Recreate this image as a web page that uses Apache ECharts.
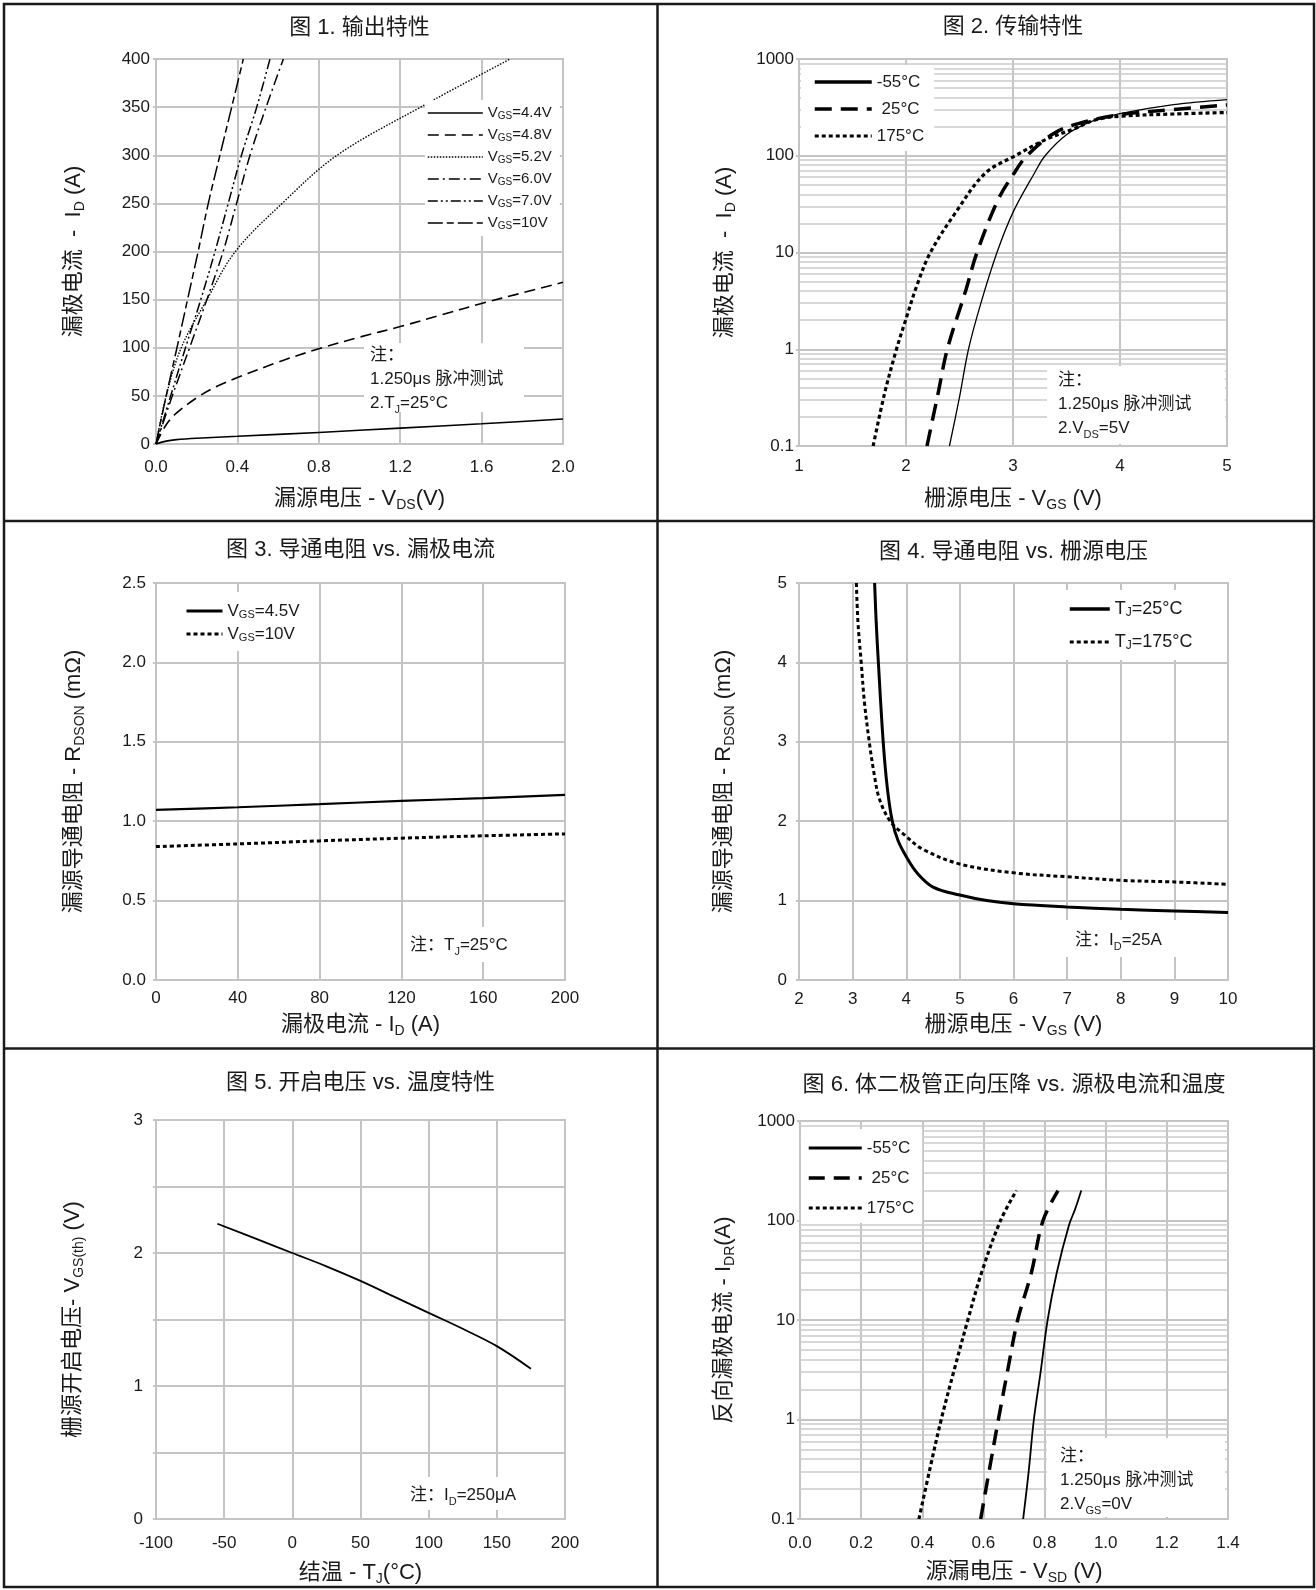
<!DOCTYPE html>
<html><head><meta charset="utf-8">
<script src="https://cdn.jsdelivr.net/npm/echarts@6/dist/echarts.min.js"></script>
<style>html,body{margin:0;padding:0;background:#fff}#c{width:1316px;height:1590px}</style>
</head><body><div id="c"></div><script>
// ---------- DATA ----------
// Fig 1: output characteristics, [VDS (V), ID (A)]
const f1_vgs44 = [[0,0],[0.05,3],[0.1,4.5],[0.2,6],[0.4,8],[0.8,12],[1.2,16.5],[1.6,21],[2.0,26]];
const f1_vgs48 = [[0,0],[0.05,20],[0.1,32],[0.2,48],[0.3,60],[0.4,69],[0.6,85],[0.8,99],[1.0,111],[1.2,122],[1.4,134],[1.6,146],[1.8,157],[2.0,168]];
const f1_vgs52 = [[0,0],[0.05,50],[0.124,100],[0.25,150],[0.39,200],[0.62,250],[0.89,300],[1.30,350],[1.74,400]];
const f1_vgs60 = [[0,0],[0.08,50],[0.165,100],[0.25,150],[0.33,200],[0.396,250],[0.462,300],[0.541,350],[0.626,400]];
const f1_vgs70 = [[0,0],[0.072,50],[0.145,100],[0.22,150],[0.29,200],[0.355,250],[0.42,300],[0.495,350],[0.56,400]];
const f1_vgs10 = [[0,0],[0.05,50],[0.103,100],[0.155,150],[0.207,200],[0.257,250],[0.314,300],[0.372,350],[0.429,400]];
// Fig 2: transfer characteristics, [VGS (V), ID (A)]
const f2_m55 = [[2.406,0.1],[2.5,0.32],[2.584,1],[2.7,3],[2.85,10],[3.0,26],[3.2,66],[3.3,100],[3.5,165],[3.73,225],[4.0,272],[4.5,337],[5.0,380]];
const f2_p25 = [[2.196,0.1],[2.3,0.35],[2.386,1],[2.56,4.1],[2.663,10],[2.86,35],[3.01,66],[3.13,100],[3.38,170],[3.61,215],[4.0,266],[4.5,300],[5.0,335]];
const f2_p175 = [[1.693,0.1],[1.8,0.35],[1.911,1],[1.99,1.9],[2.1,4.5],[2.228,10],[2.465,26],[2.74,66],[3.02,100],[3.3,146],[3.57,190],[3.77,235],[4.0,256],[4.5,270],[5.0,280]];
// Fig 3: RDSON vs ID, [ID (A), RDSON (mOhm)]
const f3_vgs45 = [[0,1.071],[40,1.088],[80,1.107],[120,1.128],[160,1.145],[200,1.166]];
const f3_vgs10 = [[0,0.840],[40,0.857],[80,0.876],[120,0.893],[160,0.908],[200,0.920]];
// Fig 4: RDSON vs VGS, [VGS (V), RDSON (mOhm)]
const f4_t25 = [[3.41,5],[3.44,4.5],[3.48,4],[3.57,3],[3.65,2.4],[3.74,2],[3.85,1.75],[4.02,1.53],[4.2,1.35],[4.5,1.17],[5,1.07],[5.5,1.0],[6,0.96],[7,0.92],[8,0.89],[9,0.87],[10,0.85]];
const f4_t175 = [[3.07,5],[3.1,4.5],[3.16,4],[3.22,3.5],[3.31,3],[3.4,2.6],[3.5,2.28],[3.7,2.0],[3.98,1.82],[4.3,1.65],[5,1.46],[6,1.35],[7,1.3],[8,1.255],[9,1.235],[10,1.205]];
// Fig 5: VGS(th) vs TJ, [TJ (°C), VGS(th) (V)]
const f5_vth = [[-55,2.22],[-25,2.10],[0,2.0],[25,1.90],[50,1.79],[75,1.67],[100,1.55],[125,1.43],[150,1.30],[175,1.13]];
// Fig 6: body diode, [VSD (V), IDR (A)]
const f6_m55 = [[0.73,0.1],[0.748,0.3],[0.765,1],[0.787,3],[0.81,10],[0.84,30],[0.88,90],[0.90,130],[0.92,200]];
const f6_p25 = [[0.591,0.1],[0.62,0.32],[0.649,1],[0.68,3.2],[0.712,10],[0.757,30],[0.795,100],[0.844,200]];
const f6_p175 = [[0.389,0.1],[0.425,0.32],[0.462,1],[0.505,3.2],[0.549,10],[0.594,30],[0.656,100],[0.708,200]];

// tick label / legend texts
const TITLES = ['图 1. 输出特性','图 2. 传输特性','图 3. 导通电阻 vs. 漏极电流','图 4. 导通电阻 vs. 栅源电压','图 5. 开启电压 vs. 温度特性','图 6. 体二极管正向压降 vs. 源极电流和温度'];
const LEG_TEXT = {
  f1a:'V{s|GS}=4.4V', f1b:'V{s|GS}=4.8V', f1c:'V{s|GS}=5.2V', f1d:'V{s|GS}=6.0V', f1e:'V{s|GS}=7.0V', f1f:'V{s|GS}=10V',
  f2a:'-55°C', f2b:' 25°C', f2c:'175°C',
  f3a:'V{s|GS}=4.5V', f3b:'V{s|GS}=10V',
  f4a:'T{s|J}=25°C', f4b:'T{s|J}=175°C',
  f6a:'-55°C', f6b:' 25°C', f6c:'175°C'
};

// ---------- STYLE ----------
const FONT = "'Liberation Sans', Arial, 'Noto Sans CJK SC', sans-serif";
const TXT = '#1a1a1a';
const GRAY = '#c4c4c4';
const MINOR = [];
for (let e = -1; e < 3; e++) for (let m = 2; m <= 9; m++) MINOR.push(+(m * Math.pow(10, e)).toPrecision(2));

const NAME_STYLE = {fontSize: 22, lineHeight: 26, color: TXT, fontFamily: FONT,
  rich: {s: {fontSize: 14, lineHeight: 14, verticalAlign: 'bottom', fontFamily: FONT, color: TXT}}};

const grids = [
  {left:156, top:59, width:407, height:385},
  {left:799, top:59, width:428, height:387},
  {left:156, top:583, width:409, height:397},
  {left:799, top:583, width:429, height:397},
  {left:156, top:1120, width:409, height:399},
  {left:800, top:1121, width:428, height:398}
].map(g => Object.assign({show:true, borderColor:GRAY, borderWidth:2, backgroundColor:'transparent'}, g));

function mkX(gi, min, max, interval, name, nameGap, margin, fmt) {
  return {type:'value', gridIndex:gi, min, max, interval, name, nameLocation:'middle', nameGap,
    nameTextStyle: NAME_STYLE,
    axisLine:{show:true, onZero:false, lineStyle:{color:GRAY, width:2}}, axisTick:{show:false},
    axisLabel:{margin, fontSize:17, color:TXT, fontFamily:FONT, formatter: fmt},
    splitLine:{show:true, lineStyle:{color:GRAY, width:2}}};
}
function mkY(gi, type, min, max, interval, name, nameGap, margin, fmt) {
  const a = {type, gridIndex:gi, min, max, name, nameLocation:'middle', nameGap,
    nameTextStyle: NAME_STYLE,
    axisLine:{show:true, onZero:false, lineStyle:{color:GRAY, width:2}},
    axisTick:{show:true, length:3, lineStyle:{color:GRAY, width:2}},
    axisLabel:{margin, fontSize:17, color:TXT, fontFamily:FONT, formatter: fmt},
    splitLine:{show:true, lineStyle:{color:GRAY, width:2}}};
  if (type === 'log') a.logBase = 10; else a.interval = interval;
  return a;
}
const fx1 = v => v.toFixed(1);
const flog = v => (v < 1 ? '0.1' : String(Math.round(v)));
const fint = v => (Math.abs(v - Math.round(v)) < 1e-9 ? String(Math.round(v)) : '');

const xAxis = [
  mkX(0, 0, 2, 0.4, '漏源电压 - V{s|DS}(V)', 42, 15, fx1),
  mkX(1, 1, 5, 1, '栅源电压 - V{s|GS} (V)', 40, 12),
  mkX(2, 0, 200, 40, '漏极电流 - I{s|D} (A)', 32, 10),
  mkX(3, 2, 10, 1, '栅源电压 - V{s|GS} (V)', 32, 11),
  mkX(4, -100, 200, 50, '结温 - T{s|J}(°C)', 41, 16),
  mkX(5, 0, 1.4, 0.2, '源漏电压 - V{s|SD} (V)', 40, 16, fx1)
];
const yAxis = [
  mkY(0, 'value', 0, 400, 50, '漏极电流  -  I{s|D} (A)', 69, 6),
  mkY(1, 'log', 0.1, 1000, null, '漏极电流  -  I{s|D} (A)', 61, 5, flog),
  mkY(2, 'value', 0, 2.5, 0.5, '漏源导通电阻 - R{s|DSON} (mΩ)', 69, 10, fx1),
  mkY(3, 'value', 0, 5, 1, '漏源导通电阻 - R{s|DSON} (mΩ)', 62, 12),
  mkY(4, 'value', 0, 3, 0.5, '栅源开启电压- V{s|GS(th)} (V)', 70, 13, fint),
  mkY(5, 'log', 0.1, 1000, null, '反向漏极电流 - I{s|DR}(A)', 63, 5, flog)
];

function ln(name, gi, data, ls, extra) {
  return Object.assign({type:'line', name, xAxisIndex:gi, yAxisIndex:gi, data, symbol:'none', showSymbol:false,
    smooth:0.35, silent:true, z:2,
    lineStyle:Object.assign({color:'#000'}, ls), itemStyle:{color:'#000'}}, extra || {});
}
const minorLines = {silent:true, z:1, symbol:['none','none'], label:{show:false}, animation:false,
  lineStyle:{color:'#cbcbcb', width:1.5, type:'solid'}, emphasis:{disabled:true},
  data: MINOR.map(v => ({yAxis: v}))};

const series = [
  ln('f1a', 0, f1_vgs44, {width:1.6, type:'solid'}),
  ln('f1b', 0, f1_vgs48, {width:1.6, type:[11,6]}),
  ln('f1c', 0, f1_vgs52, {width:1.4, type:[1.5,1.5]}),
  ln('f1d', 0, f1_vgs60, {width:1.5, type:[11,4,2,4]}),
  ln('f1e', 0, f1_vgs70, {width:1.5, type:[10,3,2,3,2,3]}),
  ln('f1f', 0, f1_vgs10, {width:1.5, type:[15,4,7,4]}),
  ln('f2a', 1, f2_m55, {width:1.3, type:'solid'}, {markLine: minorLines}),
  ln('f2b', 1, f2_p25, {width:3.5, type:[17,9]}),
  ln('f2c', 1, f2_p175, {width:3.2, type:[4,3]}),
  ln('f3a', 2, f3_vgs45, {width:2.2, type:'solid'}),
  ln('f3b', 2, f3_vgs10, {width:3, type:[4,3]}),
  ln('f4a', 3, f4_t25, {width:3, type:'solid'}),
  ln('f4b', 3, f4_t175, {width:3, type:[4,3]}),
  ln('f5', 4, f5_vth, {width:1.8, type:'solid'}),
  ln('f6a', 5, f6_m55, {width:1.8, type:'solid'}, {markLine: minorLines}),
  ln('f6b', 5, f6_p25, {width:3.5, type:[16,9]}),
  ln('f6c', 5, f6_p175, {width:3.2, type:[4,3]})
];

function leg(names, widths, o) {
  const fs = o.fontSize, lh = o.lineHeight;
  return {orient:'vertical', align:'left', left:o.left, top:o.top, padding:o.padding,
    itemWidth:o.itemWidth, itemHeight:12, itemGap:o.itemGap, backgroundColor:'#fff', selectedMode:false,
    z:4, formatter: n => LEG_TEXT[n],
    itemStyle:{color:'rgba(0,0,0,0)', opacity:0, borderWidth:0},
    textStyle:{fontSize:fs, lineHeight:lh, color:TXT, fontFamily:FONT,
      rich:{s:{fontSize:Math.round(fs*0.65), lineHeight:Math.round(fs*0.65), verticalAlign:'bottom', fontFamily:FONT, color:TXT}}},
    data: names.map((n, i) => ({name:n, lineStyle:{width:widths[i]}, itemStyle:{color:'rgba(0,0,0,0)', opacity:0, borderWidth:0}}))};
}
const legend = [
  leg(['f1a','f1b','f1c','f1d','f1e','f1f'], [1.6,1.6,1.4,1.5,1.5,1.5], {left:425, top:100, padding:[5,8,5,2], itemWidth:55, itemGap:6, fontSize:15, lineHeight:16}),
  leg(['f2a','f2b','f2c'], [3.5,3.5,3.2], {left:801, top:65, padding:[8,10,6,12], itemWidth:57, itemGap:9, fontSize:17, lineHeight:18}),
  leg(['f3a','f3b'], [3,3], {left:158, top:592, padding:[10,10,8,27], itemWidth:36, itemGap:5, fontSize:17, lineHeight:18}),
  leg(['f4a','f4b'], [3.5,3], {left:1060, top:590, padding:[9,10,8,8], itemWidth:40, itemGap:13, fontSize:18, lineHeight:20}),
  leg(['f6a','f6b','f6c'], [3,3.5,3.2], {left:801, top:1129, padding:[10,8,6,6], itemWidth:53, itemGap:12, fontSize:17, lineHeight:18})
];

const titlePos = [[359.5,17],[1013,16],[360.5,539],[1013.5,541],[360.5,1072],[1014,1074]];
const title = TITLES.map((t, i) => ({text:t, left:titlePos[i][0], top:titlePos[i][1], textAlign:'center', textVerticalAlign:'top', padding:0,
  textStyle:{fontSize:22, fontWeight:'normal', color:TXT, fontFamily:FONT}}));

// annotations
const NOTE_RICH = {s:{fontSize:11, lineHeight:11, verticalAlign:'bottom', fontFamily:FONT, fill:TXT}};
function note(box, x, y, text) {
  return [
    {type:'rect', z:3, silent:true, shape:{x:box[0], y:box[1], width:box[2], height:box[3]}, style:{fill:'#fff', stroke:null}},
    {type:'text', z:3, silent:true, x, y, style:{text, fontSize:17, lineHeight:24, fontFamily:FONT, fill:TXT, align:'left', verticalAlign:'top', rich:NOTE_RICH}}
  ];
}
const border = {stroke:'#1a1a1a', lineWidth:2.5};
const graphicEls = [].concat(
  note([364,343,160,69], 370, 343, '注：\n1.250μs 脉冲测试\n2.T{s|J}=25°C'),
  note([1047,366,178,78], 1058, 368, '注：\n1.250μs 脉冲测试\n2.V{s|DS}=5V'),
  note([403,927,122,35], 410, 933, '注：T{s|J}=25°C'),
  note([1062,920,150,37], 1075, 928, '注：I{s|D}=25A'),
  note([405,1477,125,33], 410, 1483, '注：I{s|D}=250μA'),
  note([1047,1438,178,79], 1060, 1444, '注：\n1.250μs 脉冲测试\n2.V{s|GS}=0V'),
  [
    {type:'rect', z:10, silent:true, shape:{x:4, y:4, width:1310, height:1583}, style:Object.assign({fill:null}, border)},
    {type:'line', z:10, silent:true, shape:{x1:657.5, y1:4, x2:657.5, y2:1587}, style:border},
    {type:'line', z:10, silent:true, shape:{x1:4, y1:521, x2:1314, y2:521}, style:border},
    {type:'line', z:10, silent:true, shape:{x1:4, y1:1048.5, x2:1314, y2:1048.5}, style:border}
  ]
);

const chart = echarts.init(document.getElementById('c'), null, {renderer:'canvas'});
chart.setOption({
  animation:false,
  backgroundColor:'#fff',
  textStyle:{fontFamily:FONT, color:TXT},
  title, legend, grid:grids, xAxis, yAxis, series,
  graphic:{elements:graphicEls}
});
</script></body></html>
